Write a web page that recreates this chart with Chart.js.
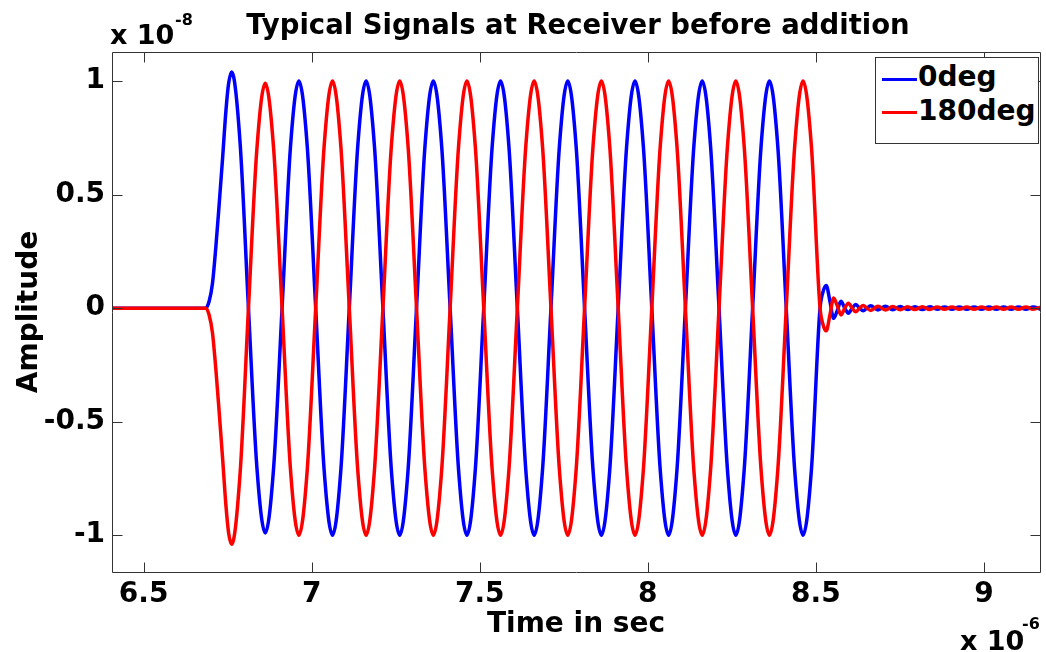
<!DOCTYPE html>
<html><head><meta charset="utf-8">
<script src="https://cdn.jsdelivr.net/npm/chart.js@4.4.1/dist/chart.umd.min.js"></script>
<style>
html,body{margin:0;padding:0;background:#fff;}
#wrap{position:relative;width:1046px;height:652px;overflow:hidden;background:#fff;}
#c{position:absolute;left:0;top:0;}
.t{position:absolute;font-family:"DejaVu Sans",sans-serif;font-weight:bold;color:#000;white-space:nowrap;line-height:1;}
#legend{position:absolute;left:875px;top:57px;width:162px;height:85px;border:1px solid #333;background:#fff;}
.lg-line{position:absolute;left:6px;width:35px;height:3px;}
.lg-text{position:absolute;left:42px;font-family:"DejaVu Sans",sans-serif;font-weight:bold;font-size:28px;line-height:1;color:#000;white-space:nowrap;}
</style></head><body>
<div id="wrap">
<canvas id="c" width="1046" height="652"></canvas>
<div id="title" class="t" style="font-size:27.5px;left:578px;top:11px;transform:translateX(-50%)"></div>
<div id="yexpBase" class="t" style="font-size:27px;left:110px;top:21px"></div>
<div id="yexpSup" class="t" style="font-size:16px;left:175px;top:12px"></div>
<div id="xexpBase" class="t" style="font-size:27px;left:960px;top:627px"></div>
<div id="xexpSup" class="t" style="font-size:16px;left:1022px;top:616px"></div>
<div id="legend"></div>
</div>
<script>
// ---- texts ----
const chartTitle = "Typical Signals at Receiver before addition";
const xAxisTitle = "Time in sec";
const yAxisTitle = "Amplitude";
const xExponent = ["x 10", "-6"];
const yExponent = ["x 10", "-8"];

// ---- series ----
const seriesNames = ["0deg", "180deg"];
const seriesColors = ["#0000ff", "#ff0000"];

// ---- ticks ----
const xTicks = [6.5, 7, 7.5, 8, 8.5, 9];
const yTicks = [-1, -0.5, 0, 0.5, 1];
const xRange = [6.406, 9.167];
const yRange = [-1.162, 1.128];

// ---- data (time in 1e-6 s, amplitude in 1e-8) ----
const timeUs = [
  6.400, 6.500, 6.600, 6.670, 6.685,
  6.695, 6.705, 6.715, 6.725, 6.735, 6.745, 6.753,
  6.762, 6.787, 6.812, 6.837, 6.862, 6.887, 6.912, 6.937,
  6.962, 6.987, 7.012, 7.037, 7.062, 7.087, 7.112, 7.137,
  7.162, 7.187, 7.212, 7.237, 7.262, 7.287, 7.312, 7.337,
  7.362, 7.387, 7.412, 7.437, 7.462, 7.487, 7.512, 7.537,
  7.562, 7.587, 7.612, 7.637, 7.662, 7.687, 7.712, 7.737,
  7.762, 7.787, 7.812, 7.837, 7.862, 7.887, 7.912, 7.937,
  7.962, 7.987, 8.012, 8.037, 8.062, 8.087, 8.112, 8.137,
  8.162, 8.187, 8.212, 8.237, 8.262, 8.287, 8.312, 8.337,
  8.362, 8.387, 8.412, 8.437, 8.462,
  8.487, 8.512, 8.521, 8.531, 8.542, 8.553, 8.564, 8.575,
  8.586, 8.597, 8.608, 8.619, 8.630, 8.641, 8.652, 8.663,
  8.685, 8.707, 8.729, 8.751, 8.773, 8.795, 8.817, 8.839,
  8.861, 8.883, 8.905, 8.927, 8.949, 8.971, 8.993, 9.015,
  9.037, 9.059, 9.081, 9.103, 9.125, 9.147, 9.169
];
const amp0deg = [
  0, 0, 0, 0, 0,
  0.03, 0.11, 0.27, 0.46, 0.66, 0.87, 0.99,
  1.04, 0.73, 0.00, -0.70, -0.99, -0.70, 0.00, 0.71,
  1.00, 0.71, 0.00, -0.71, -1.00, -0.71, 0.00, 0.71,
  1.00, 0.71, 0.00, -0.71, -1.00, -0.71, 0.00, 0.71,
  1.00, 0.71, 0.00, -0.71, -1.00, -0.71, 0.00, 0.71,
  1.00, 0.71, 0.00, -0.71, -1.00, -0.71, 0.00, 0.71,
  1.00, 0.71, 0.00, -0.71, -1.00, -0.71, 0.00, 0.71,
  1.00, 0.71, 0.00, -0.71, -1.00, -0.71, 0.00, 0.71,
  1.00, 0.71, 0.00, -0.71, -1.00, -0.71, 0.00, 0.71,
  1.00, 0.71, 0.00, -0.71, -1.00,
  -0.71, -0.01, 0.07, 0.10, 0.03, -0.045, -0.01, 0.03,
  0.00, -0.022, 0.00, 0.016, 0.00, -0.012, 0.00, 0.010,
  -0.008, 0.008, -0.007, 0.007, -0.006, 0.006, -0.006, 0.006,
  -0.005, 0.005, -0.005, 0.005, -0.005, 0.005, -0.005, 0.005,
  -0.005, 0.005, -0.005, 0.005, -0.005, 0.005, -0.005
];
const amp180deg = [
  0, 0, 0, 0, 0,
  -0.03, -0.11, -0.27, -0.46, -0.66, -0.87, -0.99,
  -1.04, -0.73, 0.00, 0.70, 0.99, 0.70, 0.00, -0.71,
  -1.00, -0.71, 0.00, 0.71, 1.00, 0.71, 0.00, -0.71,
  -1.00, -0.71, 0.00, 0.71, 1.00, 0.71, 0.00, -0.71,
  -1.00, -0.71, 0.00, 0.71, 1.00, 0.71, 0.00, -0.71,
  -1.00, -0.71, 0.00, 0.71, 1.00, 0.71, 0.00, -0.71,
  -1.00, -0.71, 0.00, 0.71, 1.00, 0.71, 0.00, -0.71,
  -1.00, -0.71, 0.00, 0.71, 1.00, 0.71, 0.00, -0.71,
  -1.00, -0.71, 0.00, 0.71, 1.00, 0.71, 0.00, -0.71,
  -1.00, -0.71, 0.00, 0.71, 1.00,
  0.71, 0.01, -0.07, -0.10, -0.03, 0.045, 0.01, -0.03,
  0.00, 0.022, 0.00, -0.016, 0.00, 0.012, 0.00, -0.010,
  0.008, -0.008, 0.007, -0.007, 0.006, -0.006, 0.006, -0.006,
  0.005, -0.005, 0.005, -0.005, 0.005, -0.005, 0.005, -0.005,
  0.005, -0.005, 0.005, -0.005, 0.005, -0.005, 0.005
];

// ---- text overlays ----
document.getElementById('title').textContent = chartTitle;
document.getElementById('yexpBase').textContent = yExponent[0];
document.getElementById('yexpSup').textContent = yExponent[1];
document.getElementById('xexpBase').textContent = xExponent[0];
document.getElementById('xexpSup').textContent = xExponent[1];
const legendEl = document.getElementById('legend');
const legendLineY = [21, 54];
const legendTextTop = [5, 39];
seriesNames.forEach((name, i) => {
  const ln = document.createElement('div');
  ln.className = 'lg-line';
  ln.style.top = (legendLineY[i] - 1.5) + 'px';
  ln.style.background = seriesColors[i];
  legendEl.appendChild(ln);
  const tx = document.createElement('div');
  tx.className = 'lg-text';
  tx.style.top = legendTextTop[i] + 'px';
  tx.textContent = name;
  legendEl.appendChild(tx);
});

// ---- chart ----
const FONT = {family: '"DejaVu Sans", sans-serif', size: 28, weight: 'bold'};
const boxTicks = {
  id: 'boxTicks',
  afterDatasetsDraw(chart) {
    const {ctx, chartArea: a, scales: {x, y}} = chart;
    const L = Math.round(a.left) + 0.5, R = Math.round(a.right) + 0.5;
    const T = Math.round(a.top) + 0.5, B = Math.round(a.bottom) + 0.5;
    ctx.save();
    ctx.strokeStyle = '#333333';
    ctx.lineWidth = 1;
    ctx.beginPath();
    ctx.rect(L, T, R - L, B - T);
    x.ticks.forEach(t => {
      const px = Math.round(x.getPixelForValue(t.value)) + 0.5;
      ctx.moveTo(px, B); ctx.lineTo(px, B - 10);
      ctx.moveTo(px, T); ctx.lineTo(px, T + 10);
    });
    y.ticks.forEach(t => {
      const py = Math.round(y.getPixelForValue(t.value)) + 0.5;
      ctx.moveTo(L, py); ctx.lineTo(L + 10, py);
      ctx.moveTo(R, py); ctx.lineTo(R - 10, py);
    });
    ctx.stroke();
    ctx.restore();
  }
};

const toPoints = arr => timeUs.map((t, i) => ({x: t, y: arr[i]}));
const seriesData = [amp0deg, amp180deg];

new Chart(document.getElementById('c'), {
  type: 'line',
  data: {
    datasets: seriesNames.map((name, i) => ({
      label: name,
      data: toPoints(seriesData[i]),
      borderColor: seriesColors[i],
      backgroundColor: seriesColors[i],
      borderWidth: 3.5,
      pointRadius: 0,
      fill: false,
      cubicInterpolationMode: 'monotone',
      order: i === 0 ? 2 : 1
    }))
  },
  options: {
    responsive: false,
    animation: false,
    events: [],
    devicePixelRatio: 1,
    layout: {padding: {left: 0, top: 52, right: 6, bottom: 0}},
    plugins: {legend: {display: false}, title: {display: false}, tooltip: {enabled: false}},
    scales: {
      x: {
        type: 'linear',
        min: xRange[0], max: xRange[1],
        afterBuildTicks: s => { s.ticks = xTicks.map(v => ({value: v})); },
        afterFit: s => { s.height = 80; },
        grid: {display: false, drawTicks: false},
        border: {display: false},
        ticks: {font: FONT, color: '#000', padding: 6, maxRotation: 0, autoSkip: false, callback: v => String(v)},
        title: {display: true, text: xAxisTitle, font: FONT, color: '#000', padding: {top: 0, bottom: 10}}
      },
      y: {
        type: 'linear',
        min: yRange[0], max: yRange[1],
        afterBuildTicks: s => { s.ticks = yTicks.map(v => ({value: v})); },
        afterFit: s => { s.width = 112; },
        grid: {display: false, drawTicks: false},
        border: {display: false},
        ticks: {font: FONT, color: '#000', padding: 7, autoSkip: false, callback: v => String(v)},
        title: {display: true, text: yAxisTitle, font: FONT, color: '#000', padding: {top: 13, bottom: 0}}
      }
    }
  },
  plugins: [boxTicks]
});
</script>
</body></html>
